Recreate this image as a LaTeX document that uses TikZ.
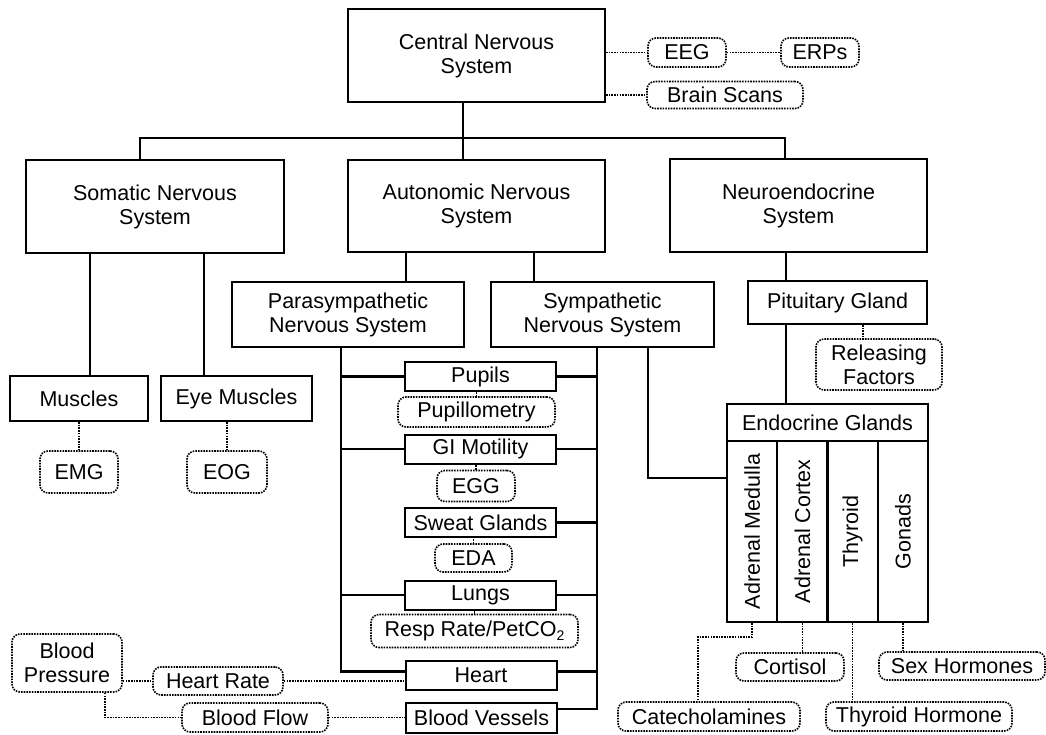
\documentclass[tikz,border=0pt]{standalone}
\usepackage{fontspec}
\setmainfont{Liberation Sans}
\usepackage{tikz}
\newcommand{\lowsub}[1]{\raisebox{-0.35ex}{\fontsize{14}{14}\selectfont #1}}

\begin{document}
\begin{tikzpicture}[x=1pt, y=-1pt,
    font=\fontsize{21.5}{24}\selectfont,
    box/.style={draw, line width=2pt, align=center, inner sep=0pt},
    organ/.style={box, minimum width=151pt, minimum height=29pt},
    gland/.style={box, rotate=90, minimum width=181pt, minimum height=50.25pt},
    meas/.style={draw, line width=1.6pt, dash pattern=on 1.6pt off 1.1pt, rounded corners=8pt, align=center, inner sep=0pt},
    link/.style={line width=2.2pt},
    dlink/.style={line width=1.6pt, dash pattern=on 1.6pt off 1.1pt}]
            \useasboundingbox (0,0) rectangle (1046,735);

            \node[box, minimum width=257pt, minimum height=93pt] (cns) at (476.5,55.5) {Central Nervous\\System};
            \node[meas, minimum width=78pt, minimum height=29pt] (eeg) at (687,52.5) {EEG};
            \node[meas, minimum width=78pt, minimum height=29pt] (erps) at (820,52.5) {ERPs};
            \node[meas, minimum width=156pt, minimum height=27pt] (scans) at (725,95) {Brain Scans};

            \node[box, minimum width=258pt, minimum height=93pt] (somatic) at (155,206.5) {Somatic Nervous\\System};
            \node[box, minimum width=257pt, minimum height=92pt] (autonomic) at (476.5,206) {Autonomic Nervous\\System};
            \node[box, minimum width=257pt, minimum height=93pt] (neuro) at (798.5,206) {Neuroendocrine\\System};

            \node[box, minimum width=138pt, minimum height=45pt] (muscles) at (79,398.5) {Muscles};
            \node[box, minimum width=151pt, minimum height=45pt] (eyemuscles) at (236.5,398.5) {Eye Muscles};
            \node[meas, minimum width=78pt, minimum height=42pt] (emg) at (79,472) {EMG};
            \node[meas, minimum width=80pt, minimum height=42pt] (eog) at (227,472) {EOG};

            \node[box, minimum width=232pt, minimum height=65pt] (para) at (348,314.5) {Parasympathetic\\Nervous System};
            \node[box, minimum width=223pt, minimum height=65pt] (symp) at (602.5,314.5) {Sympathetic\\Nervous System};

            \node[organ] (pupils) at (480.5,376.5) {Pupils};
            \node[meas, minimum width=157pt, minimum height=30pt] (pupillometry) at (476.5,412) {Pupillometry};
            \node[organ] (gi) at (480.5,449) {GI Motility};
            \node[meas, minimum width=78pt, minimum height=31pt] (egg) at (476,486) {EGG};
            \node[organ] (sweat) at (480.5,522.5) {Sweat Glands};
            \node[meas, minimum width=77pt, minimum height=28pt] (eda) at (473.5,558) {EDA};
            \node[organ] (lungs) at (480.5,595) {Lungs};
            \node[meas, minimum width=207pt, minimum height=33pt] (resp) at (474.5,631) {Resp Rate/PetCO\lowsub{2}};
            \node[organ] (heart) at (481,675.5) {Heart};
            \node[organ, minimum height=30pt] (vessels) at (481.5,718) {Blood Vessels};

            \node[meas, minimum width=110pt, minimum height=58pt] (pressure) at (67,663) {Blood\\Pressure};
            \node[meas, minimum width=130pt, minimum height=28pt] (rate) at (218,681) {Heart Rate};
            \node[meas, minimum width=146pt, minimum height=29pt] (flow) at (255,717.5) {Blood Flow};

            \node[box, minimum width=179pt, minimum height=43pt] (pituitary) at (837.5,302.5) {Pituitary Gland};
            \node[meas, minimum width=126pt, minimum height=51pt] (releasing) at (879,364.5) {Releasing\\Factors};
            \node[box, minimum width=201pt, minimum height=37pt] (endocrine) at (827.5,422.5) {Endocrine Glands};
            \node[gland] (medulla) at (752.1,531.5) {Adrenal Medulla};
            \node[gland] (cortex) at (802.4,531.5) {Adrenal Cortex};
            \node[gland] (thyroid) at (852.6,531.5) {Thyroid};
            \node[gland] (gonads) at (902.9,531.5) {Gonads};

            \node[meas, minimum width=182pt, minimum height=29pt] (catechol) at (709,716.5) {Catecholamines};
            \node[meas, minimum width=108pt, minimum height=28pt] (cortisol) at (790,667) {Cortisol};
            \node[meas, minimum width=186pt, minimum height=29pt] (thyhormone) at (919,716.5) {Thyroid Hormone};
            \node[meas, minimum width=166pt, minimum height=28pt] (sex) at (962,666) {Sex Hormones};

            % tree
            \coordinate (hub) at (463,138);
            \coordinate (busL) at (140,138);
            \coordinate (busR) at (785,138);
            \draw[link] (cns.south -| hub) -- (autonomic.north -| hub);
            \draw[link] (somatic.north -| busL) -- (busL) -- (busR) -- (neuro.north -| busR);

            \coordinate (sL) at (90,0);
            \coordinate (sR) at (204,0);
            \draw[link] (somatic.south -| sL) -- (muscles.north -| sL);
            \draw[link] (somatic.south -| sR) -- (eyemuscles.north -| sR);

            \coordinate (aL) at (406,0);
            \coordinate (aR) at (534,0);
            \draw[link] (autonomic.south -| aL) -- (para.north -| aL);
            \draw[link] (autonomic.south -| aR) -- (symp.north -| aR);

            \coordinate (pbus) at (341,0);
            \coordinate (sbus) at (597,0);
            \coordinate (sbus2) at (648,478);
            \draw[link] (para.south -| pbus) |- ([yshift=4pt]heart.west);
            \foreach \o in {pupils, gi, lungs}
                \draw[link] (\o.west) -- (\o.west -| pbus);
            \draw[link] (symp.south -| sbus) |- ([yshift=9pt]vessels.east);
            \foreach \o in {pupils, gi, sweat, lungs}
                \draw[link] (\o.east) -- (\o.east -| sbus);
            \draw[link] ([yshift=4pt]heart.east) -- ([yshift=4pt]heart.east -| sbus);
            \draw[link] (symp.south -| sbus2) |- (medulla.north |- sbus2);

            \coordinate (nx) at (786,0);
            \draw[link] (neuro.south -| nx) -- (pituitary.north -| nx);
            \draw[link] (pituitary.south -| nx) -- (endocrine.north -| nx);

            % measures
            \draw[dlink] (cns.east |- eeg.west) -- (eeg.west);
            \draw[dlink] (eeg.east) -- (erps.west);
            \draw[dlink] (cns.east |- scans.west) -- (scans.west);
            \draw[dlink] (muscles.south -| emg.north) -- (emg.north);
            \draw[dlink] (eyemuscles.south -| eog.north) -- (eog.north);
            \foreach \o/\m in {pupils/pupillometry, gi/egg, sweat/eda, lungs/resp}
                \draw[dlink] (\m.north) -- (\m.north |- \o.south);

            \coordinate (rx) at (863,0);
            \draw[dlink] (pituitary.south -| rx) -- (releasing.north -| rx);

            \draw[dlink] (pressure.east |- rate.west) -- (rate.west);
            \draw[dlink] (rate.east) -- (rate.east -| heart.west);
            \coordinate (bp) at (105,0);
            \draw[dlink] (pressure.south -| bp) |- (flow.west);
            \draw[dlink] (flow.east) -- (flow.east -| vessels.west);

            \coordinate (cx) at (698,637);
            \draw[dlink] (medulla.west) |- (cx) -- (catechol.north -| cx);
            \draw[dlink] (cortex.west) -- (cortex.west |- cortisol.north);
            \draw[dlink] (thyroid.west) -- (thyroid.west |- thyhormone.north);
            \draw[dlink] (gonads.west) -- (gonads.west |- sex.north);
\end{tikzpicture}
\end{document}
